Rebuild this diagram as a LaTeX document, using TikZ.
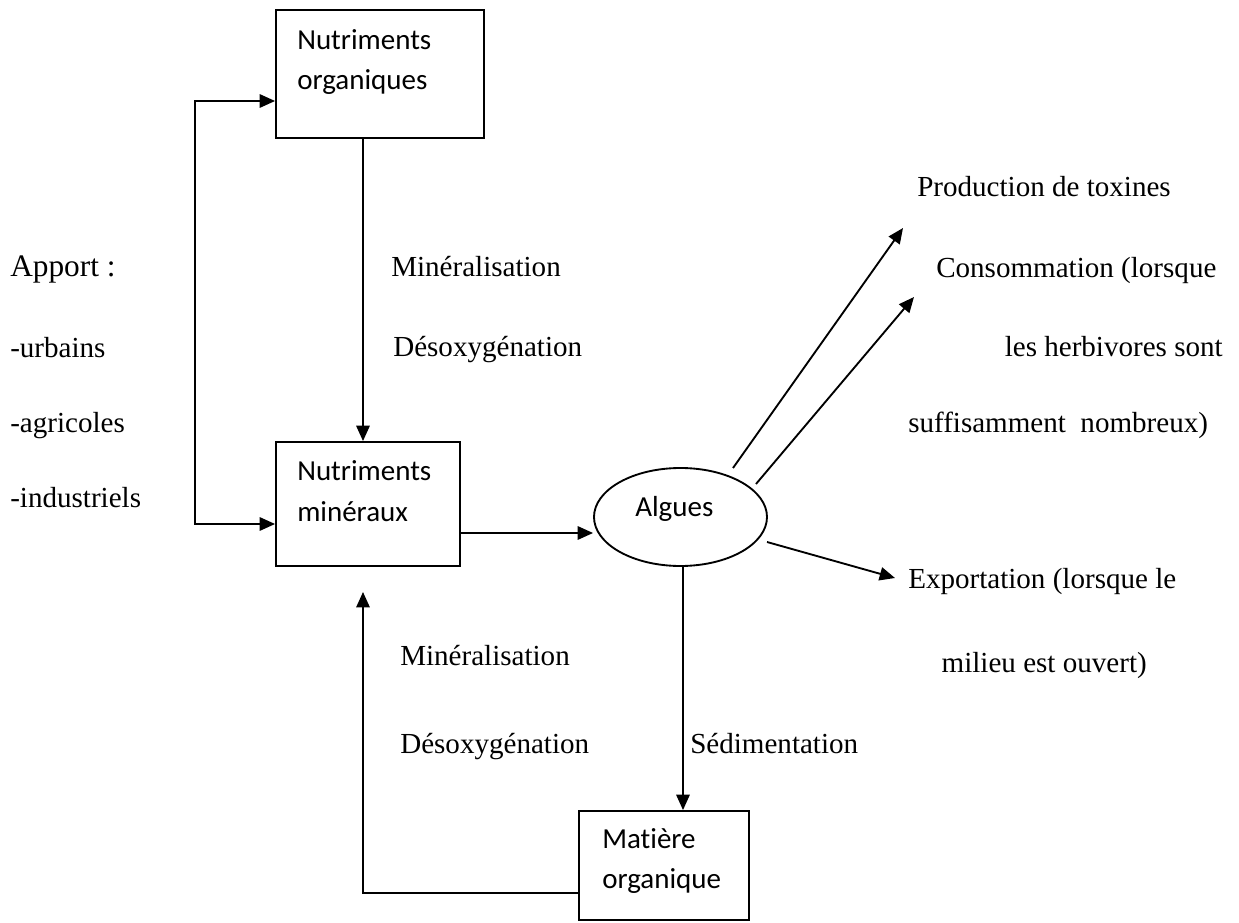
\documentclass[tikz,border=0pt]{standalone}
\usepackage{fontspec}
\setmainfont{Liberation Serif}
\newfontfamily\boxfont[Ligatures=NoCommon]{Carlito}
\usetikzlibrary{arrows.meta,shapes.geometric}
\begin{document}
\begin{tikzpicture}[x=0.75pt,y=-0.75pt,
  bx/.style={draw,rectangle,line width=1.4pt,inner sep=0pt},
  oval/.style={draw,ellipse,line width=1.4pt,inner sep=0pt},
  lbl/.style={anchor=base west,inner sep=0pt,font=\fontsize{21.8}{26}\selectfont},
  big/.style={anchor=base west,inner sep=0pt,font=\fontsize{23.5}{28}\selectfont},
  bt/.style={anchor=base west,inner sep=0pt,font=\boxfont\fontsize{21.75}{26}\selectfont},
  arr/.style={line width=1.4pt,-{Triangle[length=11.5pt,width=10pt]}},
  dbl/.style={line width=1.4pt,{Triangle[length=11.5pt,width=10pt]}-{Triangle[length=11.5pt,width=10pt]}}
]
\fill[white] (0,0) rectangle (1239,923);
\useasboundingbox (0,0) rectangle (1239,923);

% boxes
\node[bx,minimum width=156pt,minimum height=96pt] (b1) at (380,74) {};
\node[bt] (t1a) at (297,50) {Nutriments};
\node[bt] (t1b) at (297,90) {organiques};

\node[bx,minimum width=138pt,minimum height=93pt] (b2) at (368,504) {};
\node[bt] (t2a) at (297,480) {Nutriments};
\node[bt] (t2b) at (297,522) {minéraux};

\node[bx,minimum width=127.5pt,minimum height=81.75pt] (b3) at (664,865.5) {};
\node[bt] (t3a) at (602,848) {Matière};
\node[bt] (t3b) at (602,888) {organique};

\node[oval,minimum width=129.75pt,minimum height=73.5pt] (alg) at (680.5,517) {};
\node[bt] (t4) at (635,517) {Algues};

% left labels
\node[big] (ap) at (10,277) {Apport :};
\node[lbl] (ur) at (10,358) {-urbains};
\node[lbl] (ag) at (10,433) {-agricoles};
\node[lbl] (in) at (10,508) {-industriels};

% middle labels
\node[lbl] (m1) at (391,277) {Minéralisation};
\node[lbl] (d1) at (393,357) {Désoxygénation};
\node[lbl] (m2) at (400,665) {Minéralisation};
\node[lbl] (d2) at (400,753) {Désoxygénation};
\node[lbl] (sd) at (690,753) {Sédimentation};

% right labels
\node[lbl] (pt) at (917,197) {Production de toxines};
\node[lbl] (c1) at (936,278) {Consommation (lorsque};
\node[lbl,anchor=base east] (c2) at (1223,357) {les herbivores sont};
\node[lbl] (c3) at (908,433) {suffisamment\ \ nombreux)};
\node[lbl] (e1) at (908,588) {Exportation (lorsque le};
\node[lbl,anchor=base east] (e2) at (1147,672) {milieu est ouvert)};

% coordinates
\coordinate (fa) at (195,101);
\coordinate (fb) at (195,524);
\coordinate (xa) at (363,0);
\coordinate (ya) at (0,533);
\coordinate (xb) at (683,0);
\coordinate (yb) at (0,893);
\coordinate (rt) at (363,592);
\coordinate (p1) at (903,228);
\coordinate (p2) at (914,297);
\coordinate (p3) at (895,578);

% connectors
\draw[dbl] (b1.west |- fa) -- (fa) -- (fb) -- (b2.west |- fb);
\draw[arr] (b1.south -| xa) -- (b2.north -| xa);
\draw[arr] (b2.east |- ya) -- (alg.west |- ya);
\draw[arr] ([shift={(52.5,-49)}]alg.center) -- (p1);
\draw[arr] ([shift={(75.5,-33)}]alg.center) -- (p2);
\draw[arr] ([shift={(86.5,25)}]alg.center) -- (p3);
\draw[arr] (alg.south -| xb) -- (b3.north -| xb);
\draw[arr] (b3.west |- yb) -| (rt);
\end{tikzpicture}
\end{document}
